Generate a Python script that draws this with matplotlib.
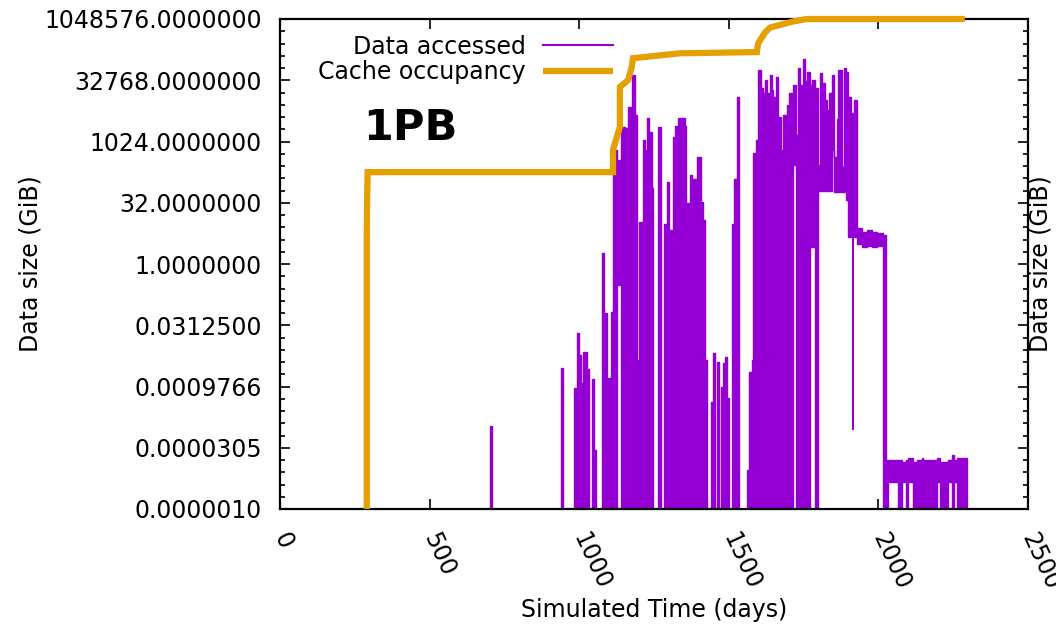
import numpy as np
import matplotlib
matplotlib.use("Agg")
import matplotlib.pyplot as plt
from matplotlib.lines import Line2D
from matplotlib.ticker import FixedLocator, NullFormatter

# values are read as log2(GiB); F marks "down to the floor" / no data
F = -21.0

# cache occupancy (orange step line)
occ_day = [290, 290, 291, 293, 1113, 1113, 1136, 1136, 1163, 1176, 1180,
           1337, 1594, 1598, 1621, 1638, 1715, 1761, 2289]
occ_log2 = [-20.0, 2.4, 5.0, 7.5, 7.5, 9.3, 11.2, 14.45, 15.0, 16.1, 16.8,
            17.2, 17.3, 18.0, 18.9, 19.3, 19.8, 20.0, 20.0]

# data accessed: segments starting at acc_day, upper and lower envelope
acc_day = [702, 708, 939, 946, 983, 993, 999, 1006, 1013, 1026, 1033, 1043,
           1049, 1056, 1076, 1083, 1093, 1103, 1106, 1113, 1120, 1126, 1140,
           1143, 1153, 1163, 1176, 1186, 1193, 1200, 1210, 1213, 1220, 1226,
           1233, 1243, 1247, 1263, 1273, 1283, 1293, 1300, 1313, 1320, 1330,
           1354, 1357, 1360, 1370, 1377, 1380, 1394, 1407, 1414, 1420, 1427,
           1440, 1447, 1454, 1460, 1467, 1474, 1480, 1487, 1494, 1501, 1511,
           1517, 1527, 1534, 1561, 1567, 1577, 1581, 1591, 1597, 1608, 1614,
           1621, 1628, 1638, 1644, 1648, 1658, 1664, 1674, 1681, 1694, 1701,
           1714, 1724, 1731, 1738, 1748, 1755, 1761, 1771, 1778, 1788, 1798,
           1805, 1811, 1821, 1828, 1835, 1845, 1851, 1861, 1865, 1878, 1885,
           1892, 1898, 1908, 1918, 1929, 1945, 1962, 1979, 1995, 2015, 2025,
           2032, 2066, 2079, 2092, 2099, 2116, 2129, 2132, 2146, 2149, 2196,
           2206, 2232, 2246, 2252, 2262, 2296]
acc_top = [-13.2, F, -8.5, F, -10.1, -5.6, -7.4, -9.7, -7.2, -8.6, F, -9.4,
           -15.2, F, 0.9, -4.0, -9.3, -16.8, -3.9, 7.9, 9.3, 8.5, 10.8,
           11.2, 11.1, 12.8, 15.4, 12.2, -7.8, 3.4, -2.9, 10.1, 9.3, 11.9,
           10.8, 6.2, F, 11.2, F, 3.3, 6.7, 2.8, 10.4, 11.3, 11.9,
           11.3, 4.2, 5.0, 7.3, 6.0, 6.9, 8.7, 5.1, 3.6, -7.8, F,
           -11.3, -7.3, F, -8.0, F, -10.0, -8.1, -7.6, -10.9, F, 3.3,
           6.9, 13.6, F, -16.8, -8.8, -7.8, 9.1, 10.1, 15.8, 14.4, 14.0,
           15.0, 14.0, 15.4, 14.2, 13.6, 15.3, 12.0, 9.3, 12.2, 13.0, 14.0,
           14.6, 10.5, 16.0, 14.6, 16.7, 14.9, 15.7, 14.6, 15.0, 14.4, 8.1,
           15.6, 14.8, 13.4, 12.6, 14.0, 15.4, 8.7, 11.8, 15.8, 7.9, 16.0,
           15.7, 13.6, 12.3, 13.4, 2.9, 2.6, 2.8, 2.6, 2.5, 2.4, -16.0,
           -16.0, -16.0, -16.2, -16.0, -15.8, -16.2, -16.0, -16.0, -15.8, -16.0, -15.8,
           -16.2, -16.0, -15.6, -16.0, -15.8, -15.8]
acc_low = [F, F, F, F, F, F, F, F, F, F, F, F,
           F, F, F, F, F, F, F, F, F, -1.7, F,
           F, F, F, F, F, F, F, F, F, F, F,
           F, F, F, F, F, F, F, F, F, F, F,
           F, F, F, F, F, F, F, F, F, F, F,
           F, F, F, F, F, F, F, F, F, F, F,
           F, F, F, F, F, F, F, F, F, F, F,
           F, F, F, F, F, F, F, F, F, F, F,
           8.1, F, F, F, F, F, F, 1.4, 1.4, F, 6.0,
           6.0, 6.0, 6.0, 6.0, 6.0, 9.3, 5.9, 5.9, 5.9, 5.9, 5.9,
           5.2, 2.2, 2.2, 2.2, 1.6, 1.4, 1.5, 1.4, 1.5, F, F,
           -17.8, F, -17.8, F, -17.8, F, -17.8, F, -17.8, F, -17.8,
           F, -17.8, F, -17.8, F, F]

# single thin dip inside the plateau
dip_day = [1915]
dip_low = [-13.55]
dip_high = [2.2]

xticks = [0, 500, 1000, 1500, 2000, 2500]
ytick_log2 = [-20, -15, -10, -5, 0, 5, 10, 15, 20]
ytick_labels = ["0.0000010", "0.0000305", "0.0009766", "0.0312500", "1.0000000",
                "32.0000000", "1024.0000000", "32768.0000000", "1048576.0000000"]

purple = "#9400D3"
orange = "#E69F00"
fs = 17

plt.rcParams["font.family"] = ["DejaVu Sans"]

fig = plt.figure(figsize=(10.56, 6.26), dpi=100)
ax = fig.add_axes([280 / 1056, 117 / 626, 748 / 1056, 490 / 626])

x = np.array(acc_day, dtype=float)
top = 2.0 ** np.array(acc_top + [acc_top[-1]])[:len(x)]
low = 2.0 ** np.array(acc_low + [acc_low[-1]])[:len(x)]
ax.fill_between(x, low, top, step="post", facecolor=purple, edgecolor=purple,
                linewidth=1.0, zorder=2)
ax.vlines(dip_day, 2.0 ** np.array(dip_low), 2.0 ** np.array(dip_high),
          color=purple, linewidth=1.5, zorder=2)

ax.plot(occ_day, 2.0 ** np.array(occ_log2), color=orange, linewidth=4.5,
        solid_capstyle="butt", solid_joinstyle="miter", clip_on=False, zorder=3)

ax.set_yscale("log", base=2)
ax.set_xlim(0, 2500)
ax.set_ylim(2.0 ** -20, 2.0 ** 20)

ax.xaxis.set_major_locator(FixedLocator(xticks))
ax.set_xticklabels([str(t) for t in xticks], rotation=-65, ha="left", va="center",
                   rotation_mode="anchor", fontsize=fs)
ax.yaxis.set_major_locator(FixedLocator([2.0 ** k for k in ytick_log2]))
ax.set_yticklabels(ytick_labels, fontsize=fs)
ax.yaxis.set_minor_locator(FixedLocator([2.0 ** k for k in range(-20, 21) if k % 5]))
ax.yaxis.set_minor_formatter(NullFormatter())

ax.tick_params(axis="both", which="both", direction="in", top=True, right=True,
               width=1.2)
ax.tick_params(axis="both", which="major", length=7)
ax.tick_params(axis="y", which="minor", length=3.5)
ax.tick_params(axis="x", which="major", pad=18)
ax.tick_params(axis="y", which="major", pad=13)
for s in ax.spines.values():
    s.set_linewidth(1.6)

ax.set_xlabel("Simulated Time (days)", fontsize=fs, va="center")
ax.xaxis.set_label_coords(0.5, -0.206)
ax.set_ylabel("Data size (GiB)", fontsize=fs, va="center")
ax.yaxis.set_label_coords(-0.334, 0.5)
ax.text(1.017, 0.5, "Data size (GiB)", transform=ax.transAxes, rotation=90,
        ha="center", va="center", fontsize=fs)

ax.text(0.174, 0.778, "1PB", transform=ax.transAxes, fontsize=31,
        fontweight="bold", ha="center", va="center")

handles = [Line2D([], [], color=purple, linewidth=1.5),
           Line2D([], [], color=orange, linewidth=4.5, solid_capstyle="butt")]
ax.legend(handles, ["Data accessed", "Cache occupancy"], loc="upper right",
          bbox_to_anchor=(0.445, 0.968), frameon=False, fontsize=fs,
          markerfirst=False, borderpad=0, borderaxespad=0, handlelength=2.95,
          handletextpad=0.75, labelspacing=0.05)

fig.savefig("out.png", dpi=100)
